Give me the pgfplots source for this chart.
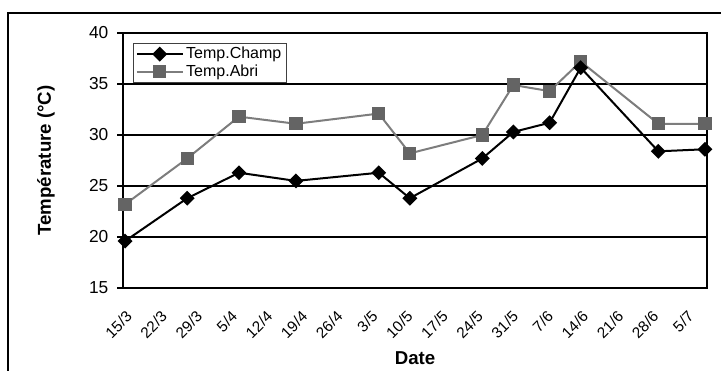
\documentclass[border=0pt]{standalone}
\usepackage{fontspec}
\setmainfont{Liberation Sans}
\usepackage{pgfplots}
\pgfplotsset{compat=1.18}
\definecolor{abriline}{RGB}{125,125,125}
\definecolor{abrimark}{RGB}{100,100,100}
\begin{document}
\begin{tikzpicture}
\useasboundingbox (0,0) rectangle (540.75pt,278.25pt);
\draw[line width=1.1pt] (6pt,0) -- (6pt,268.5pt) -- (541pt,268.5pt);
\begin{axis}[
  at={(92.25pt,62.25pt)}, anchor=south west,
  scale only axis, width=438pt, height=191.25pt,
  xmin=-0.4, xmax=112.4, ymin=15, ymax=40,
  ytick={15,20,25,30,35,40},
  xtick={0,6.78,13.56,20.34,27.12,33.9,40.68,47.46,54.24,61.02,67.8,74.58,81.36,88.14,94.92,101.7,108.48},
  xticklabels={15/3,22/3,29/3,5/4,12/4,19/4,26/4,3/5,10/5,17/5,24/5,31/5,7/6,14/6,21/6,28/6,5/7},
  ymajorgrids, grid style={black, line width=1.2pt},
  axis line style={black, line width=1.2pt},
  ytick pos=left, tick align=outside,
  major tick length=4.5pt,
  ytick style={black, line width=0.8pt},
  xtick style={draw=none},
  /pgf/number format/assume math mode=true,
  yticklabel style={font=\fontsize{13}{15}\selectfont, xshift=-3pt},
  xticklabel style={font=\fontsize{11.5}{13}\selectfont, rotate=45, anchor=north east, yshift=-5pt, xshift=-5pt},
  ylabel={\textbf{Température (°C)}},
  ylabel style={font=\fontsize{14}{16}\selectfont, at={(axis description cs:-0.132,0.5)}, anchor=center},
  xlabel={\textbf{Date}},
  xlabel style={font=\fontsize{14}{16}\selectfont, at={(axis description cs:0.5,-0.3)}, anchor=base, inner sep=0pt},
  clip=false,
  reverse legend,
  legend style={at={(rel axis cs:0.017,0.961)}, anchor=north west, draw=black!75, line width=0.6pt,
    font=\fontsize{12}{14}\selectfont, inner xsep=2pt, inner ysep=1pt, row sep=-1pt},
  legend cell align=left,
  legend image code/.code={\draw[mark repeat=2,mark phase=2] plot coordinates {(0cm,0cm) (0.6cm,0cm) (1.2cm,0cm)};},
]
\addplot[abriline, line width=1.5pt, mark=square*, mark size=4.2pt, mark options={solid, fill=abrimark, draw=abrimark}]
  coordinates {(0,23.2) (12,27.7) (22,31.8) (33,31.1) (49,32.1) (55,28.2) (69,30.0) (75,34.9) (82,34.3) (88,37.2) (103,31.1) (112,31.1)};
\addlegendentry{Temp.Abri}
\addplot[black, line width=1.5pt, mark=square*, mark size=3.2pt, mark options={solid, fill=black, rotate=45}]
  coordinates {(0,19.6) (12,23.8) (22,26.3) (33,25.5) (49,26.3) (55,23.8) (69,27.7) (75,30.3) (82,31.2) (88,36.6) (103,28.4) (112,28.6)};
\addlegendentry{Temp.Champ}
\end{axis}
\end{tikzpicture}
\end{document}
